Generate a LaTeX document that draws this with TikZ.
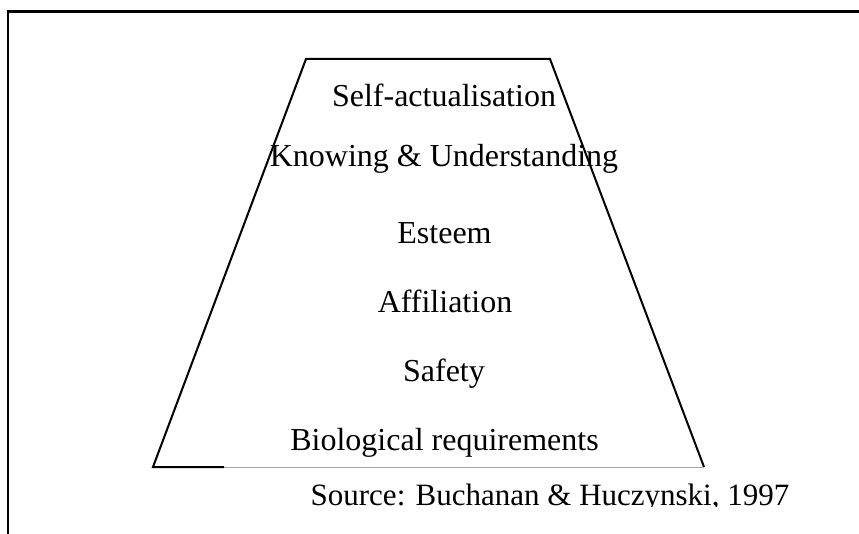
\documentclass[tikz,border=0pt]{standalone}
\usepackage{fontspec}
\setmainfont{Liberation Serif}
\begin{document}
\begin{tikzpicture}[x=1pt,y=-1pt,
  level/.style={anchor=base,inner sep=0pt,font=\fontsize{32}{38}\selectfont},
  srcstyle/.style={anchor=base,inner sep=0pt,font=\fontsize{31}{37}\selectfont},
  edge/.style={line width=2pt,line cap=butt},
  frame/.style={line width=2.2pt}]
\useasboundingbox (0,0) rectangle (859,534);
% frame (open on right and bottom)
\coordinate (fbl) at (8,534);
\coordinate (ftl) at (8,11.5);
\coordinate (ftr) at (859,11.5);
\draw[frame] (fbl) -- (ftl) -- (ftr);
% trapezoid
\coordinate (tl) at (306,59);
\coordinate (tr) at (550,59);
\coordinate (bl) at (153,467);
\coordinate (bm) at (224,467);
\coordinate (br) at (704,467);
\draw[edge,line join=miter] (bm) -- (bl) -- (tl) -- (tr) -- (br);
\draw[gray!70,line width=1pt] (bm) -- (br);
% levels
\node[level] (l6) at (444,106.5) {Self-actualisation};
\node[level] (l5) at (444,167) {Knowing \& Understanding};
\node[level] (l4) at (444.5,244) {Esteem};
\node[level] (l3) at (445,312.5) {Affiliation};
\node[level] (l2) at (444,381.5) {Safety};
\node[level] (l1) at (444.5,450.5) {Biological requirements};
% source, clipped at the bottom
\begin{scope}
\clip (0,0) rectangle (859,506);
\node[srcstyle] (src) at (550,505) {Source: Buchanan \& Huczynski, 1997};
\end{scope}
\end{tikzpicture}
\end{document}
